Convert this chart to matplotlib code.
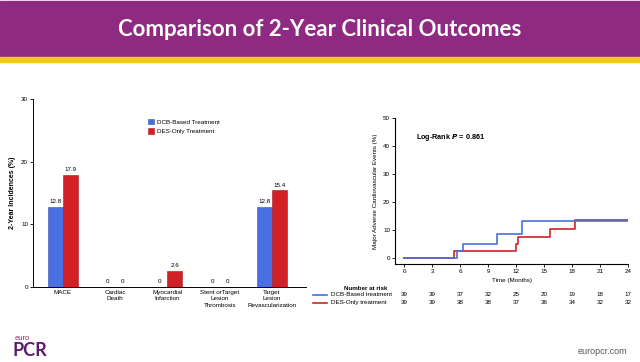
import numpy as np
import matplotlib
matplotlib.use("Agg")
import matplotlib.pyplot as plt
from matplotlib.patches import Rectangle

# Bar chart data
categories = ["MACE", "Cardiac\nDeath", "Myocardial\nInfarction",
              "Stent orTarget\nLesion\nThrombosis", "Target\nLesion\nRevascularization"]
dcb_values = [12.8, 0, 0, 0, 12.8]
des_values = [17.9, 0, 2.6, 0, 15.4]

# Kaplan-Meier step data (months, cumulative %)
dcb_time = [0, 5.65, 6.25, 9.93, 12.65, 24]
dcb_event = [0, 2.6, 5.1, 8.6, 13.2, 13.2]
des_time = [0, 5.3, 11.97, 12.2, 15.65, 18.3, 24]
des_event = [0, 2.6, 5.1, 7.7, 10.5, 13.5, 13.5]

risk_months = [0, 3, 6, 9, 12, 15, 18, 21, 24]
dcb_at_risk = [39, 39, 37, 32, 25, 20, 19, 18, 17]
des_at_risk = [39, 39, 38, 38, 37, 36, 34, 32, 32]

W, H = 640, 362
blue = "#4A6FE0"
red = "#D32027"
purple = "#8F2A83"
small = 4.5

plt.rcParams['font.family'] = ['Liberation Sans', 'DejaVu Sans']

fig = plt.figure(figsize=(6.4, 3.62), dpi=100)


def fx(px):
    return px / W


def fy(py):
    return 1 - py / H


# header band
fig.patches.append(Rectangle((0, fy(57)), 1, fy(1) - fy(57), transform=fig.transFigure,
                             color=purple, zorder=0))
fig.patches.append(Rectangle((0, fy(62)), 1, fy(57) - fy(62), transform=fig.transFigure,
                             color="#F6C81C", zorder=0))
fig.text(0.5, fy(29), "Comparison of 2-Year Clinical Outcomes", color="white",
         fontsize=16, fontweight="bold", family=["Lato", "DejaVu Sans"],
         ha="center", va="center")

# ---- left: grouped bars ----
ax1 = fig.add_axes([fx(33), fy(287), fx(306) - fx(33), fy(99) - fy(287)])
x = np.arange(len(categories))
bw = 0.285
b1 = ax1.bar(x - bw / 2, dcb_values, bw, color=blue, edgecolor="#3355BB", linewidth=0.4,
             label="DCB-Based Treatment")
b2 = ax1.bar(x + bw / 2, des_values, bw, color=red, edgecolor="#A01A20", linewidth=0.4,
             label="DES-Only Treatment")
for bars, vals in [(b1, dcb_values), (b2, des_values)]:
    for rect, v in zip(bars, vals):
        lab = "0" if v == 0 else f"{v:.1f}"
        ax1.text(rect.get_x() + rect.get_width() / 2, v + 0.4, lab, ha="center",
                 va="bottom", fontsize=small)
ax1.set_xlim(-0.57, 4.65)
ax1.set_ylim(0, 30)
ax1.set_yticks([0, 10, 20, 30])
ax1.set_xticks(x)
ax1.set_xticklabels(categories, fontsize=small, linespacing=1.35)
ax1.tick_params(axis="y", labelsize=small, length=2, width=0.6, pad=1.5)
ax1.tick_params(axis="x", length=0, pad=2)
ax1.spines["top"].set_visible(False)
ax1.spines["right"].set_visible(False)
ax1.spines["left"].set_linewidth(0.7)
ax1.spines["bottom"].set_linewidth(0.7)
ax1.set_ylabel("2-Year Incidences (%)", fontsize=5, fontweight="bold", labelpad=4)
ax1.legend(loc="upper left", bbox_to_anchor=(0.4, 0.925), fontsize=small, frameon=False,
           handlelength=1.0, handleheight=1.0, handletextpad=0.5, labelspacing=0.6)

# ---- right: KM curves ----
ax2 = fig.add_axes([fx(395), fy(264), fx(628) - fx(395), fy(118) - fy(264)])
ax2.step(des_time, des_event, where="post", color=red, lw=1.2)
ax2.step(dcb_time, dcb_event, where="post", color=blue, lw=1.2)
ax2.set_xlim(-1, 24)
ax2.set_ylim(-2.1, 50)
ax2.set_xticks(risk_months)
ax2.set_yticks([0, 10, 20, 30, 40, 50])
ax2.tick_params(labelsize=small, length=2, width=0.6, pad=1.5)
for s in ["top", "right"]:
    ax2.spines[s].set_visible(False)
ax2.spines["left"].set_linewidth(0.8)
ax2.spines["bottom"].set_linewidth(0.8)
ax2.set_xlabel("Time (Months)", fontsize=small, labelpad=3)
ax2.set_ylabel("Major Adverse Cardiovascular Events (%)", fontsize=small, labelpad=4)
ax2.text(1.3, 43, "Log-Rank $\\boldsymbol{P}$ = 0.861", fontsize=5.2, fontweight="bold",
         ha="left", va="center")

# number at risk table
fig.text(fx(388), fy(288), "Number at risk", fontsize=small, fontweight="bold",
         ha="right", va="center")
for row_y, label, col, counts in [(295, "DCB-Based treatment", blue, dcb_at_risk),
                                  (302.5, "DES-Only treatment", red, des_at_risk)]:
    fig.add_artist(plt.Line2D([fx(313), fx(327)], [fy(row_y), fy(row_y)],
                              color=col, lw=1.2, transform=fig.transFigure))
    fig.text(fx(331), fy(row_y), label, fontsize=small, ha="left", va="center")
    for m, n in zip(risk_months, counts):
        xd = ax2.transData.transform((m, 0))[0]
        xf = fig.transFigure.inverted().transform((xd, 0))[0]
        fig.text(xf, fy(row_y), str(n), fontsize=small, ha="center", va="center")

# footer
fig.text(fx(15), fy(338), "euro", fontsize=5.5, color=purple, ha="left", va="center")
fig.text(fx(13), fy(350), "PCR", fontsize=13, fontweight="bold", color="#5B1A6E",
         ha="left", va="center", family=["Lato", "DejaVu Sans"])
fig.text(fx(627), fy(352), "europcr.com", fontsize=6.5, color="#555555",
         ha="right", va="center")

fig.savefig("out.png", dpi=100)
